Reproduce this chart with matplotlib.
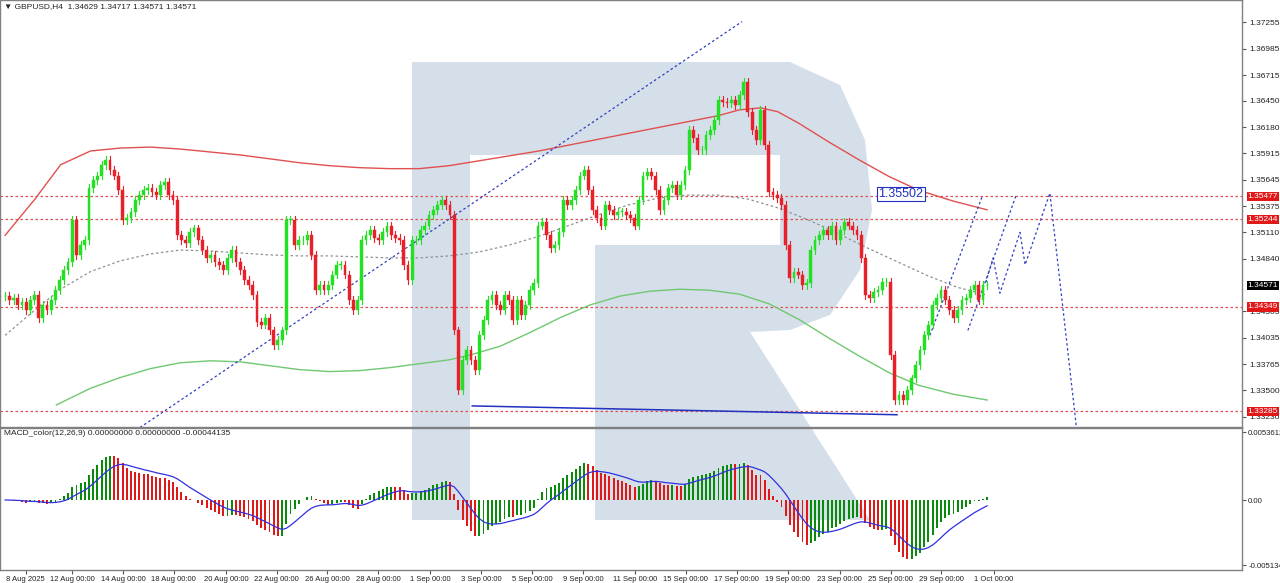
import numpy as np
import matplotlib
matplotlib.use("Agg")
import matplotlib.pyplot as plt
from matplotlib.patches import Polygon, Rectangle

plt.rcParams['font.family'] = ['Liberation Sans', 'DejaVu Sans']

closes = [1.3446,1.3442,1.3444,1.3437,1.3440,1.3432,1.3442,1.3447,1.3424,
1.3437,1.3432,1.3442,1.3452,1.3462,1.3473,1.3481,
1.3524,1.3488,1.3498,1.3503,1.3556,1.3564,1.3569,1.3580,1.3585,1.3575,1.3569,1.3554,1.3524,1.3526,1.3532,1.3544,1.3549,1.3554,1.3556,1.3552,1.3549,1.3559,1.3562,1.3549,1.3544,1.3508,1.3503,1.3500,1.3511,1.3515,1.3503,1.3493,1.3485,1.3488,1.3481,1.3478,1.3473,1.3485,1.3493,1.3481,1.3473,1.3462,1.3457,1.3447,1.3420,1.3417,1.3424,1.3411,1.3396,1.3401,1.3411,
1.3524,1.3524,1.3498,1.3503,1.3503,1.3508,1.3488,1.3452,1.3457,1.3452,1.3457,1.3468,1.3478,1.3478,1.3468,1.3442,1.3432,1.3442,1.3503,1.3508,1.3513,1.3505,1.3503,1.3511,1.3518,1.3508,1.3505,1.3503,1.3478,1.3462,1.3503,1.3503,1.3513,1.3518,1.3529,1.3534,1.3539,1.3544,1.3539,1.3529,1.3411,1.3350,1.3381,1.3391,1.3381,1.3371,1.3406,1.3422,1.3442,1.3447,1.3437,1.3432,1.3447,1.3442,1.3422,
1.3442,1.3427,1.3437,1.3452,1.3459,1.3518,1.3522,1.3508,1.3495,1.3498,1.3511,1.3544,1.3539,1.3544,1.3554,1.3569,1.3575,1.3554,1.3534,1.3526,1.3518,1.3539,1.3534,1.3529,1.3532,1.3532,1.3529,1.3526,1.3518,1.3544,1.3569,1.3573,1.3569,1.3554,1.3534,1.3544,1.3556,1.3559,1.3549,1.3559,1.3575,1.3615,1.3607,1.3595,1.3595,1.3610,1.3615,1.3626,1.3646,1.3644,1.3643,1.3646,1.3641,1.3651,1.3664,1.3634,1.3615,1.3605,1.3636,1.3600,
1.3552,1.3549,1.3546,1.3539,1.3498,1.3464,1.3471,1.3468,1.3457,1.3459,1.3493,1.3503,1.3508,1.3513,1.3508,1.3518,1.3503,1.3513,1.3522,1.3518,1.3513,1.3508,1.3485,1.3447,1.3444,1.3450,1.3452,1.3460,1.3460,1.3386,1.3340,1.3345,1.3340,1.3350,1.3362,1.3376,1.3391,1.3406,1.3417,1.3437,1.3444,1.3452,1.3442,1.3432,1.3424,1.3432,1.3442,1.3444,1.3452,1.3457,1.3442,1.3457,1.34571]

ma_x = [0,7,13,20,27,34,41,48,55,62,69,76,83,90,97,104,111,118,125,132,139,146,153,160,167,172,177,181,186,193,200,207,214,222,230]
red_ma = [1.3508,1.3545,1.3580,1.3594,1.3597,1.3598,1.3596,1.3593,1.3590,1.3586,1.3582,1.3579,1.3577,1.3576,1.3576,1.3579,1.3584,1.3589,1.3594,1.3600,1.3606,1.3612,1.3618,1.3624,1.3630,1.3636,1.3638,1.3634,1.3622,1.3603,1.3585,1.3568,1.3554,1.3543,1.3534]
grey_x = [0,7,13,20,27,34,41,48,55,62,69,76,83,90,97,104,111,118,125,132,139,146,153,160,167,174,181,188,195,202,209,216,223,230]
grey_ma = [1.3406,1.3432,1.3453,1.3471,1.3482,1.3489,1.3493,1.3492,1.3490,1.3488,1.3487,1.3487,1.3486,1.3485,1.3485,1.3487,1.3491,1.3498,1.3507,1.3518,1.3529,1.3539,1.3546,1.3549,1.3549,1.3545,1.3536,1.3524,1.3510,1.3495,1.3481,1.3467,1.3455,1.3447]
green_x = [12,20,27,34,41,48,55,62,69,76,83,90,97,104,109,116,123,130,137,144,151,158,165,172,179,186,193,200,207,214,222,230]
green_ma = [1.3335,1.3352,1.3363,1.3372,1.3378,1.3380,1.3379,1.3375,1.3371,1.3369,1.3370,1.3373,1.3377,1.3381,1.3386,1.3395,1.3409,1.3424,1.3437,1.3446,1.3451,1.3453,1.3452,1.3448,1.3438,1.3422,1.3403,1.3385,1.3368,1.3355,1.3346,1.3340]

levels = [1.35477, 1.35244, 1.34349, 1.33285]
last_price = 1.34571
yticks = [1.37255,1.36985,1.36715,1.36450,1.36180,1.35915,1.35645,1.35375,1.35110,1.34840,1.34305,1.34035,1.33765,1.33500,1.33230]
ytick_labels = ["1.37255","1.36985","1.36715","1.36450","1.36180","1.35915","1.35645","1.35375","1.35110","1.34840","1.34305","1.34035","1.33765","1.33500","1.33230"]
date_labels = ["8 Aug 2025","12 Aug 00:00","14 Aug 00:00","18 Aug 00:00","20 Aug 00:00","22 Aug 00:00","26 Aug 00:00","28 Aug 00:00","1 Sep 00:00","3 Sep 00:00","5 Sep 00:00","9 Sep 00:00","11 Sep 00:00","15 Sep 00:00","17 Sep 00:00","19 Sep 00:00","23 Sep 00:00","25 Sep 00:00","29 Sep 00:00","1 Oct 00:00"]
date_pos = [4.8,15.7,27.6,39.5,51.7,63.6,75.5,87.4,99.5,111.5,123.4,135.4,147.5,159.4,171.4,183.3,195.5,207.4,219.3,231.5]

trend_x = [31.6, 172.6]; trend_y = [1.3312, 1.3726]
support_x = [109.4, 208.9]; support_y = [1.3334, 1.3325]
fc_x = [229.7,231.4,233.0,237.7,238.9,244.7,251.0]
fc_y = [1.3460,1.3485,1.3449,1.3511,1.3478,1.3551,1.3309]
ch1_x = [216.6,228.8]; ch1_y = [1.3406,1.3547]
ch2_x = [225.5,236.8]; ch2_y = [1.3411,1.3549]
target = 1.35502

W, H = 1280, 583
fig = plt.figure(figsize=(12.8, 5.83), dpi=100)
fig.patch.set_facecolor("white")

logo = [(412,62),(790,62),(840,85),(865,140),(872,210),(860,270),(830,315),(790,330),(750,332),(870,520),(595,520),(595,245),(780,245),(780,155),(470,155),(470,520),(412,520)]
bg = fig.add_axes([0, 0, 1, 1], zorder=-5)
bg.set_xlim(0, W); bg.set_ylim(H, 0); bg.axis("off")
bg.add_patch(Polygon(logo, closed=True, facecolor="#d5dfea", edgecolor="none"))

axR = 1242/W
ax = fig.add_axes([0.0, 1-427/H, axR, 427/H])
axm = fig.add_axes([0.0, 1-570/H, axR, 142/H])
for a in (ax, axm):
    a.set_facecolor("none")
    a.set_xlim(-1.2, 289.7)
    for s in a.spines.values():
        s.set_color("#808080"); s.set_linewidth(1)
ax.set_ylim(1.33125, 1.3748)
axm.set_ylim(-0.00552, 0.00568)

FS = 6.0
n = len(closes)
xs = np.linspace(0, 230, n)
opens = [closes[0]] + closes[:-1]
for x, o, c in zip(xs, opens, closes):
    col = "#22e022" if c >= o else "#e8202a"
    hi = max(o, c) + 0.0004; lo = min(o, c) - 0.0004
    ax.plot([x, x], [lo, hi], color=col, lw=0.8, zorder=3)
    ax.add_patch(Rectangle((x-0.33, min(o, c)), 0.66, max(abs(c-o), 0.00005), facecolor=col, edgecolor=col, lw=0.3, zorder=4))

ax.plot(ma_x, red_ma, color="#e05050", lw=1, zorder=2)
ax.plot(grey_x, grey_ma, color="#909090", lw=0.9, ls=(0,(2,2)), zorder=2)
ax.plot(green_x, green_ma, color="#70c870", lw=1, zorder=2)
for lv in levels:
    ax.axhline(lv, color="#e05050", lw=0.9, ls=(0,(2,2)), zorder=1)
ax.plot(trend_x, trend_y, color="#3040c0", lw=0.9, ls=(0,(2,2)), zorder=2)
ax.plot(support_x, support_y, color="#2030c0", lw=1.1, zorder=2)
ax.plot(fc_x, fc_y, color="#3040c0", lw=0.9, ls=(0,(2,2)), zorder=2)
ax.plot(ch1_x, ch1_y, color="#3040c0", lw=0.9, ls=(0,(2,2)), zorder=2)
ax.plot(ch2_x, ch2_y, color="#3040c0", lw=0.9, ls=(0,(2,2)), zorder=2)
ax.text(204.5, target, "1.35502", fontsize=9, color="#2030c0", va="center", ha="left",
        bbox=dict(facecolor="white", edgecolor="#2030c0", pad=1.0, lw=0.8), zorder=6)
ax.plot([213.5, 215.5], [target, target], color="#2030c0", lw=0.8)

ax.yaxis.tick_right()
ax.set_yticks(yticks)
ax.set_yticklabels(ytick_labels, fontsize=FS, color="#222222")
ax.tick_params(axis="y", length=3, pad=2, colors="#555555", labelcolor="#222222")
ax.set_xticks([])
for lv in levels:
    ax.text(1.0045, lv, f"{lv:.5f}", transform=ax.get_yaxis_transform(), fontsize=FS, color="white",
            va="center", ha="left", bbox=dict(facecolor="#e01818", edgecolor="none", pad=0.8), zorder=7)
ax.text(1.0045, last_price, f"{last_price:.5f}", transform=ax.get_yaxis_transform(), fontsize=FS, color="white",
        va="center", ha="left", bbox=dict(facecolor="black", edgecolor="none", pad=0.8), zorder=7)
ax.text(0.003, 0.992, "▼ GBPUSD,H4  1.34629 1.34717 1.34571 1.34571", transform=ax.transAxes,
        fontsize=FS, va="top", ha="left", color="#222222")

c = np.array(closes)
def ema(v, p):
    k = 2/(p+1); out = np.empty_like(v); out[0] = v[0]
    for i in range(1, len(v)):
        out[i] = v[i]*k + out[i-1]*(1-k)
    return out
macd = ema(c, 12) - ema(c, 26)
sig = ema(macd, 9)
prev = np.concatenate([[macd[0]], macd[:-1]])
cols = ["#0a8a0a" if m >= p else "#e01818" for m, p in zip(macd, prev)]
axm.bar(xs, macd, width=0.45, color=cols, zorder=3)
axm.plot(xs, sig, color="#3030e0", lw=0.9, zorder=4)
axm.yaxis.tick_right()
axm.set_yticks([0.0053612, 0.0, -0.0051343])
axm.set_yticklabels(["0.0053612", "0.00", "-0.0051343"], fontsize=5.6, color="#222222")
axm.tick_params(axis="y", length=3, pad=1.5, colors="#555555", labelcolor="#222222")
axm.set_xticks(date_pos)
axm.set_xticklabels(date_labels, fontsize=5.5, color="#222222")
axm.tick_params(axis="x", length=3, pad=1, colors="#555555", labelcolor="#222222")
axm.text(0.003, 0.985, "MACD_color(12,26,9) 0.00000000 0.00000000 -0.00044135", transform=axm.transAxes,
         fontsize=FS, va="top", ha="left", color="#222222")

fig.savefig("out.png", dpi=100)
